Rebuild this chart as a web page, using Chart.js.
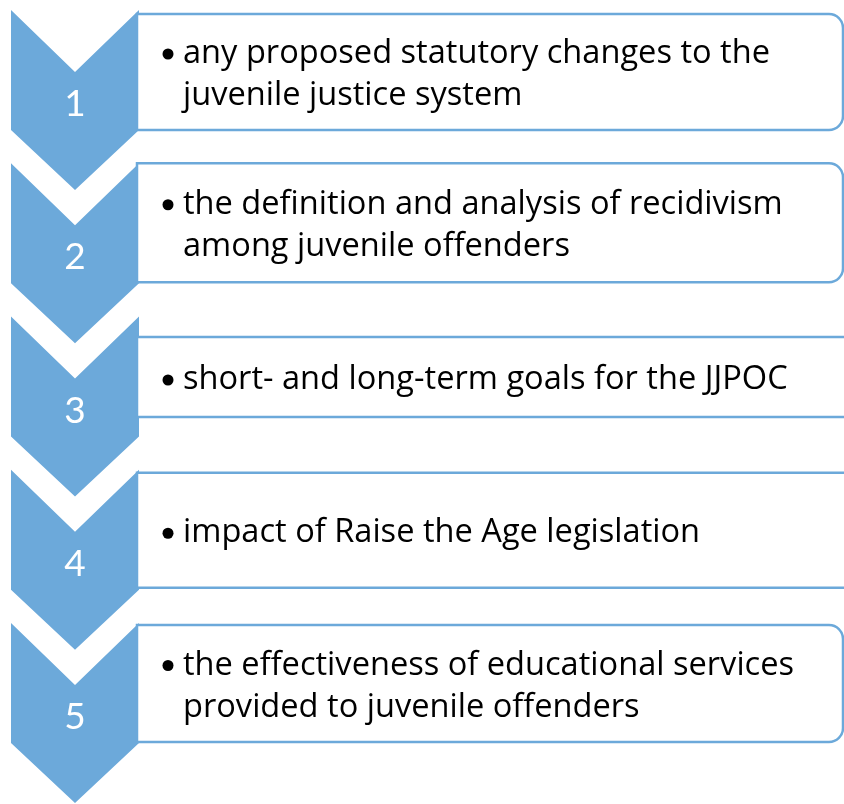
<!DOCTYPE html>
<html>
<head>
<meta charset="utf-8">
<script src="https://cdn.jsdelivr.net/npm/chart.js@4"></script>
<style>
  html, body { margin: 0; padding: 0; background: #fff; }
  #wrap { width: 844px; height: 804px; }
</style>
</head>
<body>
<div id="wrap"><canvas id="chart"></canvas></div>
<script>
const steps = ['1', '2', '3', '4', '5'];
const items = [
  ['any proposed statutory changes to the', 'juvenile justice system'],
  ['the definition and analysis of recidivism', 'among juvenile offenders'],
  ['short- and long-term goals for the JJPOC'],
  ['impact of Raise the Age legislation'],
  ['the effectiveness of educational services', 'provided to juvenile offenders']
];

// layout, in the pixel units of the hidden axes
const pitch = 153.25, firstTop = 10;
const chevLeft = 11, chevRight = 139, notch = 62, side = 120, tip = 180;
const boxTop = [4, 0, 20.5, 3, 2];
const boxBottom = [120, 119, 100.5, 118, 119];
const boxRight = [843, 843, 870, 870, 843];
const boxLeft = 137, radius = 14;
const textX = 183, bulletX = 168, lineGap = 42;
const refLineWidth = 587; // width of the first line in the picture

const blue = '#6ca9da';
const bodyFont = '33px "Open Sans", Lato, sans-serif';
const stepFont = '37px Lato, "Open Sans", sans-serif';

const flowPlugin = {
  id: 'flow',
  afterDatasetsDraw(chart) {
    const ctx = chart.ctx;
    const xs = chart.scales.x, ys = chart.scales.y;
    const X = v => xs.getPixelForValue(v);
    const Y = v => ys.getPixelForValue(v);

    ctx.save();
    ctx.font = bodyFont;
    const sx = refLineWidth / ctx.measureText(items[0][0]).width;

    steps.forEach((step, i) => {
      const t = firstTop + pitch * i;
      const mid = (chevLeft + chevRight) / 2;

      // chevron
      ctx.beginPath();
      ctx.moveTo(X(chevLeft), Y(t));
      ctx.lineTo(X(mid), Y(t + notch));
      ctx.lineTo(X(chevRight), Y(t));
      ctx.lineTo(X(chevRight), Y(t + side));
      ctx.lineTo(X(mid), Y(t + tip));
      ctx.lineTo(X(chevLeft), Y(t + side));
      ctx.closePath();
      ctx.fillStyle = blue;
      ctx.fill();

      ctx.fillStyle = '#fff';
      ctx.font = stepFont;
      ctx.textAlign = 'center';
      ctx.textBaseline = 'alphabetic';
      ctx.fillText(step, X(mid), Y(t + 106));
    });

    steps.forEach((step, i) => {
      const t = firstTop + pitch * i;
      const top = Y(t + boxTop[i]), bottom = Y(t + boxBottom[i]);
      const left = X(boxLeft), right = X(boxRight[i]);

      // box with rounded right corners
      ctx.beginPath();
      ctx.moveTo(left, top);
      ctx.lineTo(right - radius, top);
      ctx.arcTo(right, top, right, top + radius, radius);
      ctx.lineTo(right, bottom - radius);
      ctx.arcTo(right, bottom, right - radius, bottom, radius);
      ctx.lineTo(left, bottom);
      ctx.closePath();
      ctx.fillStyle = '#fff';
      ctx.fill();
      ctx.strokeStyle = blue;
      ctx.lineWidth = 2.5;
      ctx.stroke();

      // bullet text
      const lines = items[i];
      const center = (top + bottom) / 2 + 12;
      const first = center - (lines.length - 1) * lineGap / 2;
      ctx.font = bodyFont;
      ctx.textAlign = 'left';
      ctx.fillStyle = '#000';
      lines.forEach((line, j) => {
        const base = first + j * lineGap;
        if (j === 0) {
          ctx.beginPath();
          ctx.arc(X(bulletX), base - 9, 5.5, 0, Math.PI * 2);
          ctx.fill();
        }
        ctx.save();
        ctx.translate(X(textX), base);
        ctx.scale(sx, 1);
        ctx.fillText(line, 0, 0);
        ctx.restore();
      });
    });
    ctx.restore();
  }
};

new Chart(document.getElementById('chart'), {
  type: 'scatter',
  data: { datasets: [{ data: [], pointRadius: 0 }] },
  options: {
    responsive: true,
    maintainAspectRatio: false,
    animation: false,
    layout: { padding: 0 },
    plugins: { legend: { display: false }, tooltip: { enabled: false } },
    scales: {
      x: { type: 'linear', min: 0, max: 844, display: false },
      y: { type: 'linear', min: 0, max: 804, reverse: true, display: false }
    }
  },
  plugins: [flowPlugin]
});
</script>
</body>
</html>
